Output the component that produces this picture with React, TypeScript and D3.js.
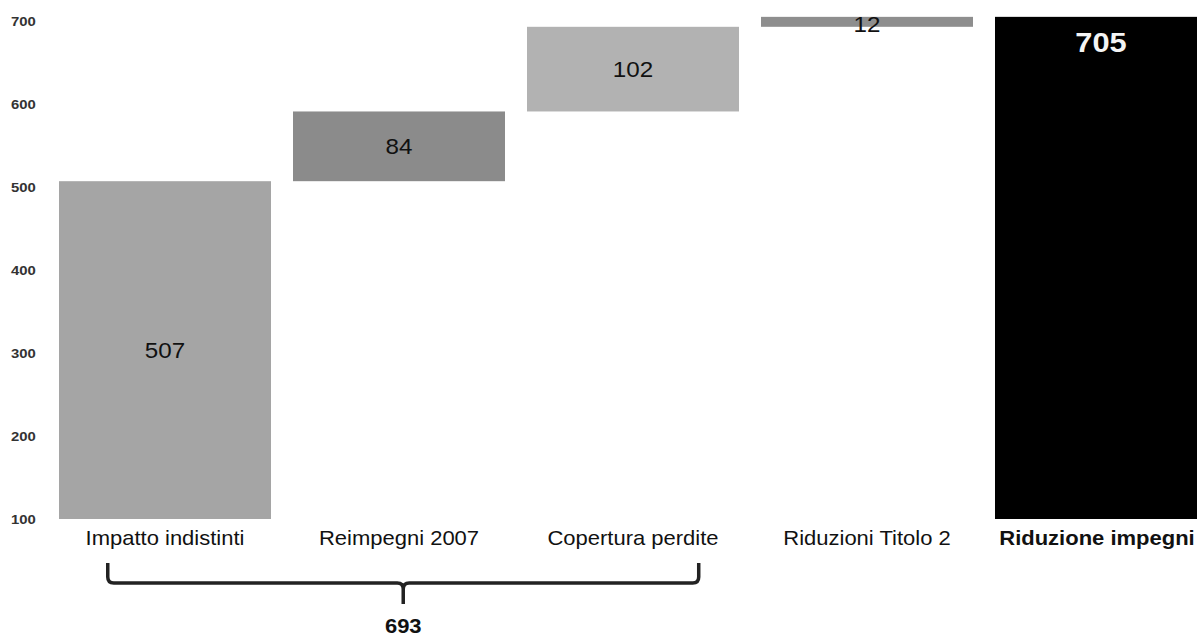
import { useEffect, useRef } from 'react';
import * as d3 from 'd3';

const categories = ['Impatto indistinti', 'Reimpegni 2007', 'Copertura perdite', 'Riduzioni Titolo 2', 'Riduzione impegni'];
const stepValues = [507, 84, 102, 12];
const totalValue = 705;
const subtotalValue = 693;
const yTicks = [100, 200, 300, 400, 500, 600, 700];
const barColors = ['#a5a5a5', '#8b8b8b', '#b2b2b2', '#8e8e8e', '#000000'];

const W = 1197;
const H = 637;
// the reference text is slightly wider than plain Arial
const STRETCH = 1.1;

const App = () => {
  const svgRef = useRef<SVGSVGElement>(null);

  useEffect(() => {
    document.body.style.margin = '0';
    if (!svgRef.current) return;
    const svg = d3.select(svgRef.current);
    svg.selectAll('*').remove();

    const font = '"Liberation Sans", Arial, sans-serif';
    const place = (px: number, py: number) => `translate(${px},${py}) scale(${STRETCH},1)`;

    const x = d3.scaleBand<string>()
      .domain(categories)
      .range([59, 1207])
      .paddingInner(0.094)
      .paddingOuter(0);

    const y = d3.scaleLinear().domain([100, 700]).range([519, 21]);

    // waterfall segments
    let acc = 0;
    const segs = stepValues.map((v, i) => {
      const s = { cat: categories[i], start: Math.max(acc, 100), end: acc + v, value: v };
      acc += v;
      return s;
    });
    segs.push({ cat: categories[4], start: 100, end: totalValue, value: totalValue });

    // y axis labels
    svg.append('g')
      .selectAll('text')
      .data(yTicks)
      .enter()
      .append('text')
      .attr('transform', d => place(11, y(d) + 5))
      .style('font-family', font)
      .style('font-size', '13.5px')
      .style('font-weight', 'bold')
      .style('fill', '#333')
      .text(d => d);

    // bars
    svg.append('g')
      .selectAll('rect')
      .data(segs)
      .enter()
      .append('rect')
      .attr('x', d => x(d.cat) as number)
      .attr('width', x.bandwidth())
      .attr('y', d => y(d.end))
      .attr('height', d => y(d.start) - y(d.end))
      .attr('fill', (_d, i) => barColors[i]);

    // value labels
    svg.append('g')
      .selectAll('text')
      .data(segs)
      .enter()
      .append('text')
      .attr('transform', (d, i) => {
        const cx = (x(d.cat) as number) + x.bandwidth() / 2;
        const cy = i === 4 ? y(d.end) + 35 : i === 3 ? y(d.end) + 15 : (y(d.start) + y(d.end)) / 2 + 8;
        return place(cx, cy);
      })
      .attr('text-anchor', 'middle')
      .style('font-family', font)
      .style('font-size', (_d, i) => (i === 4 ? '28px' : '22px'))
      .style('font-weight', (_d, i) => (i === 4 ? 'bold' : 'normal'))
      .style('fill', (_d, i) => (i === 4 ? '#f4f4f4' : '#111'))
      .text(d => d.value);

    // category labels
    svg.append('g')
      .selectAll('text')
      .data(categories)
      .enter()
      .append('text')
      .attr('transform', (d, i) => place((x(d) as number) + x.bandwidth() / 2 - (i === 4 ? 4 : 0), 545))
      .attr('text-anchor', 'middle')
      .style('font-family', font)
      .style('font-size', '20px')
      .style('font-weight', (_d, i) => (i === 4 ? 'bold' : 'normal'))
      .style('fill', '#111')
      .text(d => d);

    // brace under first three categories
    const bl = (x(categories[0]) as number) + x.bandwidth() * 0.23;
    const br = (x(categories[2]) as number) + x.bandwidth() * 0.81;
    const bm = (bl + br) / 2;
    const top = 563, mid = 583, r = 6;
    const path = d3.path();
    path.moveTo(bl, top);
    path.lineTo(bl, mid - r);
    path.quadraticCurveTo(bl, mid, bl + r, mid);
    path.lineTo(bm - r, mid);
    path.quadraticCurveTo(bm, mid, bm, mid + r);
    path.lineTo(bm, 604);
    path.moveTo(bm, mid + r);
    path.quadraticCurveTo(bm, mid, bm + r, mid);
    path.lineTo(br - r, mid);
    path.quadraticCurveTo(br, mid, br, mid - r);
    path.lineTo(br, top);
    svg.append('path')
      .attr('d', path.toString())
      .attr('fill', 'none')
      .attr('stroke', '#222')
      .attr('stroke-width', 3.5);

    svg.append('text')
      .attr('transform', place(bm, 633))
      .attr('text-anchor', 'middle')
      .style('font-family', font)
      .style('font-size', '20px')
      .style('font-weight', 'bold')
      .style('fill', '#111')
      .text(subtotalValue);
  }, []);

  return <svg ref={svgRef} width={W} height={H} style={{ display: 'block', background: '#fff' }} />;
};

export default App;
